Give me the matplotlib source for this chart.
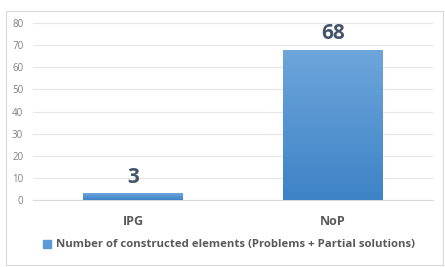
import matplotlib
matplotlib.use("Agg")
import matplotlib.pyplot as plt
import numpy as np
from matplotlib.patches import Rectangle
from matplotlib.colors import LinearSegmentedColormap

categories = ["IPG", "NoP"]
values = [3, 68]
series_name = "Number of constructed elements (Problems + Partial solutions)"
yticks = [0, 10, 20, 30, 40, 50, 60, 70, 80]

fig = plt.figure(figsize=(4.45, 2.67), dpi=100)
fig.patch.set_facecolor("white")
fig.add_artist(Rectangle((6/445, 1-265/267), 437/445, 254/267, transform=fig.transFigure,
                         fill=False, edgecolor="#d9d9d9", linewidth=0.8))
ax = fig.add_axes([33/445, 1-200/267, 400/445, 177/267])
x = np.arange(len(categories))
bars = ax.bar(x, values, width=0.5, color="#5b9bd5", edgecolor="none", zorder=2)
cmap = LinearSegmentedColormap.from_list("g", ["#3d83c6", "#6ea6db"])
grad = np.linspace(0, 1, 256).reshape(-1, 1)
for b in bars:
    im = ax.imshow(grad, cmap=cmap, aspect="auto", origin="lower",
                   extent=[b.get_x(), b.get_x() + b.get_width(), 0, b.get_height()], zorder=3)
    im.set_clip_path(b)
for xi, v in zip(x, values):
    ax.text(xi, v + 2.5, str(v), ha="center", va="bottom", fontsize=15, fontweight="bold",
            color="#44546a", family="Open Sans")
ax.set_xlim(-0.5, 1.5)
ax.set_ylim(0, 80)
ax.set_yticks(yticks)
ax.set_yticklabels([str(t) for t in yticks], fontsize=7, color="#7f7f7f", family="Open Sans")
ax.set_xticks(x)
ax.set_xticklabels(categories, fontsize=9, fontweight="bold", color="#595959", family="Open Sans")
ax.tick_params(axis="both", length=0)
ax.tick_params(axis="x", pad=11)
ax.tick_params(axis="y", pad=7)
ax.grid(axis="y", color="#e6e6e6", linewidth=0.8, zorder=0)
ax.set_axisbelow(True)
for s in ["top", "right", "left"]:
    ax.spines[s].set_visible(False)
ax.spines["bottom"].set_color("#d9d9d9")
ax.spines["bottom"].set_linewidth(0.8)
handle = Rectangle((0, 0), 1, 1, color="#5b9bd5")
fig.legend([handle], [series_name], loc="center", bbox_to_anchor=(229/445, 1-245/267),
           frameon=False, prop={"family": "Open Sans", "weight": "bold", "size": 8.2},
           labelcolor="#595959", handlelength=0.7, handleheight=0.7, handletextpad=0.5)
fig.savefig("out.png", dpi=100)
